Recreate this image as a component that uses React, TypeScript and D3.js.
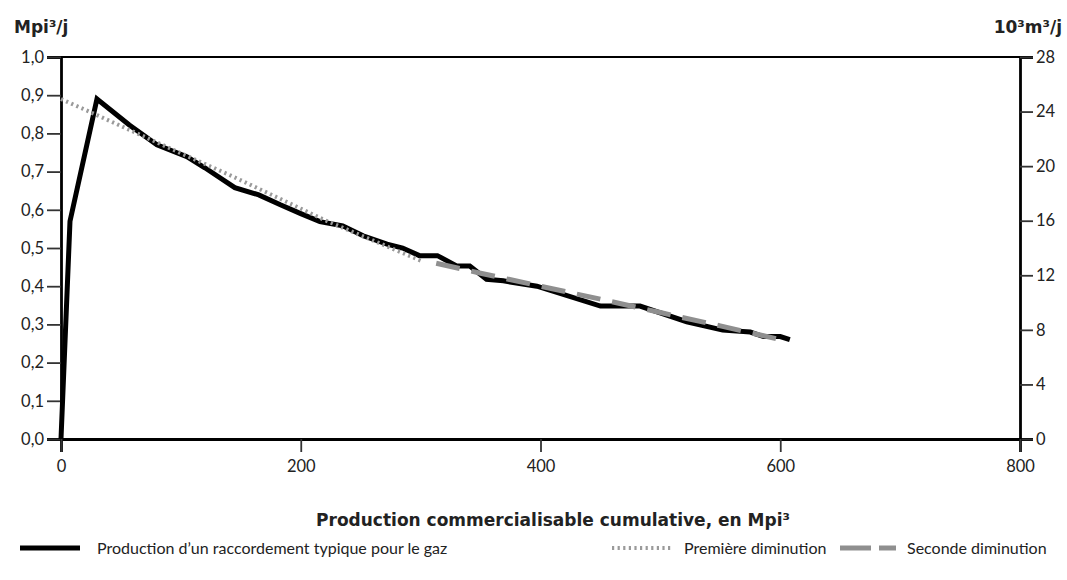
import * as React from "react";
import { useRef, useEffect } from "react";
import * as d3 from "d3";

// Production d'un raccordement typique (Mpi³ cumulatif, Mpi³/j)
const prodX = [0, 7.5, 30, 57, 80, 105, 120, 145, 165, 183, 200, 216, 235, 252, 272, 285, 299, 314, 330, 341, 355, 369, 397, 450, 483, 522, 552, 575, 586, 600, 608];
const prodY = [0, 0.57, 0.89, 0.822, 0.77, 0.739, 0.71, 0.658, 0.639, 0.613, 0.59, 0.569, 0.558, 0.532, 0.51, 0.5, 0.48, 0.48, 0.453, 0.453, 0.418, 0.414, 0.4, 0.348, 0.348, 0.307, 0.285, 0.28, 0.268, 0.268, 0.26];

// Première diminution
const firstX = [0, 30, 60, 100, 140, 180, 220, 260, 300];
const firstY = [0.89, 0.848, 0.805, 0.748, 0.692, 0.633, 0.573, 0.52, 0.467];

// Seconde diminution
const secondX = [313, 350, 400, 450, 500, 550, 606];
const secondY = [0.46, 0.434, 0.4, 0.366, 0.331, 0.296, 0.256];

const xTicks = [0, 200, 400, 600, 800];
const yTicksLeft = [0, 0.1, 0.2, 0.3, 0.4, 0.5, 0.6, 0.7, 0.8, 0.9, 1.0];
const yTicksRight = [0, 4, 8, 12, 16, 20, 24, 28];

const FONT = "Lato, 'Noto Sans', sans-serif";
const BOLD = "'DejaVu Sans', sans-serif";

export default function App() {
  const ref = useRef(null);

  useEffect(() => {
    const el = ref.current;
    el.innerHTML = "";
    const W = 1067;
    const H = 580;
    const margin = { top: 57, right: 47, bottom: 141, left: 61 };
    const width = W - margin.left - margin.right;
    const height = H - margin.top - margin.bottom;

    const svg = d3
      .select(el)
      .append("svg")
      .attr("width", W)
      .attr("height", H)
      .style("position", "absolute")
      .style("left", 0)
      .style("top", 0)
      .style("font-family", FONT);

    const g = svg
      .append("g")
      .attr("transform", `translate(${margin.left},${margin.top})`);

    const x = d3.scaleLinear().domain([0, 800]).range([0, width]);
    const y = d3.scaleLinear().domain([0, 1]).range([height, 0]);
    const y2 = d3.scaleLinear().domain([0, 28]).range([height, 0]);

    const fmt = (d) => d3.format(".1f")(d).replace(".", ",");

    // axes
    const left = g
      .append("g")
      .call(d3.axisLeft(y).tickValues(yTicksLeft).tickFormat(fmt).tickSize(14).tickPadding(3));
    const right = g
      .append("g")
      .attr("transform", `translate(${width},0)`)
      .call(d3.axisRight(y2).tickValues(yTicksRight).tickSize(13).tickPadding(3));
    const bottom = g
      .append("g")
      .attr("transform", `translate(0,${height})`)
      .call(d3.axisBottom(x).tickValues(xTicks).tickSize(13).tickPadding(8));

    [left, right, bottom].forEach((a) => {
      a.selectAll("text").style("font-family", FONT).style("font-size", "16.5px").attr("fill", "#222");
      a.selectAll(".tick line").attr("stroke", "#333").attr("stroke-width", 1.8);
      a.select(".domain").attr("stroke", "#000").attr("stroke-width", 2.8);
    });

    // top frame line
    g.append("line")
      .attr("x1", 0)
      .attr("x2", width)
      .attr("y1", 0)
      .attr("y2", 0)
      .attr("stroke", "#000")
      .attr("stroke-width", 2.2);

    const line = d3
      .line()
      .x((d) => x(d[0]))
      .y((d) => y(d[1]));

    g.append("path")
      .datum(d3.zip(prodX, prodY))
      .attr("fill", "none")
      .attr("stroke", "#000")
      .attr("stroke-width", 5)
      .attr("d", line);

    g.append("path")
      .datum(d3.zip(firstX, firstY))
      .attr("fill", "none")
      .attr("stroke", "#9a9a9a")
      .attr("stroke-width", 4)
      .attr("stroke-dasharray", "2.2,3.4")
      .attr("d", line);

    g.append("path")
      .datum(d3.zip(secondX, secondY))
      .attr("fill", "none")
      .attr("stroke", "#8f8f8f")
      .attr("stroke-width", 5)
      .attr("stroke-dasharray", "24,12")
      .attr("d", line);

    // axis titles
    const bold = (t, size) =>
      t.style("font-family", BOLD).style("font-size", size).style("font-weight", 700).attr("fill", "#222");

    bold(svg.append("text").attr("x", 14).attr("y", 33).text("Mpi³/j"), "17px");
    bold(svg.append("text").attr("x", 1062).attr("y", 33).attr("text-anchor", "end").text("10³m³/j"), "17px");
    bold(
      svg.append("text")
        .attr("x", 553)
        .attr("y", 526)
        .attr("text-anchor", "middle")
        .text("Production commercialisable cumulative, en Mpi³"),
      "17px"
    );

    // legend
    const leg = svg.append("g").attr("transform", "translate(0,548)");
    const items = [
      { x1: 20, x2: 80, tx: 97, stroke: "#000", w: 5, dash: null, label: "Production d’un raccordement typique pour le gaz" },
      { x1: 612, x2: 672, tx: 684, stroke: "#9a9a9a", w: 4, dash: "2.2,3.4", label: "Première diminution" },
      { x1: 840, x2: 896, tx: 907, stroke: "#8f8f8f", w: 5, dash: "31,8", label: "Seconde diminution" },
    ];
    items.forEach((it) => {
      leg.append("line")
        .attr("x1", it.x1)
        .attr("x2", it.x2)
        .attr("y1", 0)
        .attr("y2", 0)
        .attr("stroke", it.stroke)
        .attr("stroke-width", it.w)
        .attr("stroke-dasharray", it.dash);
      leg.append("text")
        .attr("x", it.tx)
        .attr("y", 6)
        .style("font-size", "16px")
        .attr("fill", "#222")
        .text(it.label);
    });
  }, []);

  return <div ref={ref}></div>;
}
